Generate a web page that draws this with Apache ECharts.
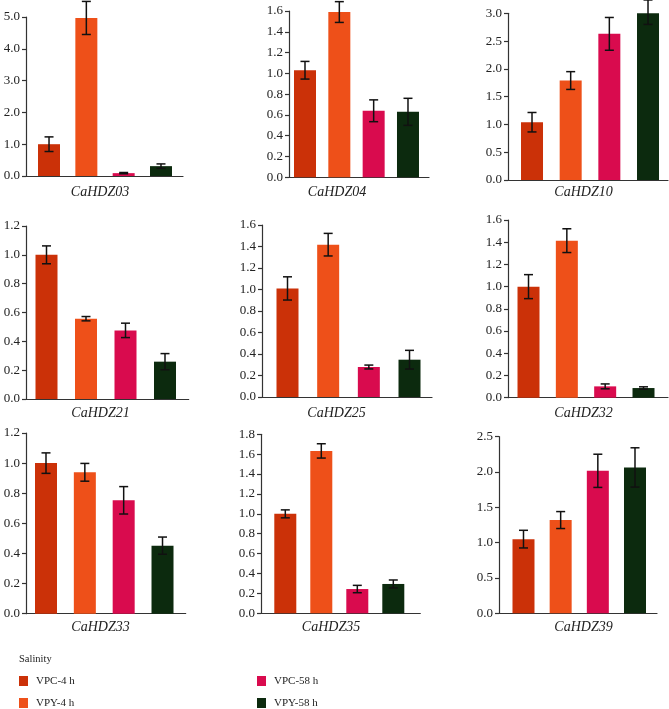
<!DOCTYPE html>
<html>
<head>
<meta charset="utf-8">
<script src="https://cdn.jsdelivr.net/npm/echarts@6/dist/echarts.min.js"></script>
<style>
  html, body { margin: 0; padding: 0; background: #fff; }
  #chart { width: 669px; height: 709px; }
</style>
</head>
<body>
<div id="chart"></div>
<script>
// ---- data ----
const genes = ['CaHDZ03','CaHDZ04','CaHDZ10','CaHDZ21','CaHDZ25','CaHDZ32','CaHDZ33','CaHDZ35','CaHDZ39'];
const treatments = ['VPC-4 h','VPY-4 h','VPC-58 h','VPY-58 h'];
const vpc4     = [1.00, 1.03, 1.04, 1.00, 1.01, 1.00, 1.00, 1.00, 1.05];
const vpc4Err  = [0.23, 0.085, 0.175, 0.062, 0.108, 0.108, 0.068, 0.040, 0.125];
const vpy4     = [4.97, 1.59, 1.79, 0.557, 1.417, 1.414, 0.939, 1.633, 1.32];
const vpy4Err  = [0.52, 0.10, 0.16, 0.015, 0.105, 0.107, 0.059, 0.072, 0.12];
const vpc58    = [0.09, 0.64, 2.63, 0.476, 0.279, 0.102, 0.753, 0.244, 2.017];
const vpc58Err = [0.02, 0.105, 0.295, 0.05, 0.018, 0.022, 0.091, 0.037, 0.235];
const vpy58    = [0.31, 0.63, 3.02, 0.259, 0.347, 0.087, 0.452, 0.295, 2.065];
const vpy58Err = [0.07, 0.13, 0.22, 0.056, 0.087, 0.011, 0.057, 0.040, 0.278];
const yMax      = [5, 1.6, 3.0, 1.2, 1.6, 1.6, 1.2, 1.8, 2.5];
const yInterval = [1, 0.2, 0.5, 0.2, 0.2, 0.2, 0.2, 0.2, 0.5];

const means = [vpc4, vpy4, vpc58, vpy58];
const errs  = [vpc4Err, vpy4Err, vpc58Err, vpy58Err];
const colors = ['#cb3108', '#ee5019', '#d90b4e', '#0c2a0e'];

// ---- layout (pixels) ----
const panels = [
  {left:26,  top:17,    width:157,   height:159,   xMin:-0.617, xMax:3.59,  lx:100,   ly:192},
  {left:289, top:11,    width:140,   height:166.3, xMin:-0.466, xMax:3.612, lx:337,   ly:192},
  {left:508, top:13.3,  width:160,   height:166.7, xMin:-0.621, xMax:3.517, lx:583.5, ly:192},
  {left:26,  top:226,   width:162.7, height:173,   xMin:-0.519, xMax:3.60,  lx:100.5, ly:413.5},
  {left:262, top:225,   width:170,   height:172,   xMin:-0.627, xMax:3.553, lx:336.5, ly:413.5},
  {left:508, top:220,   width:160,   height:177.7, xMin:-0.535, xMax:3.639, lx:583.5, ly:413.5},
  {left:26,  top:433,   width:159.7, height:180.7, xMin:-0.515, xMax:3.597, lx:100.5, ly:627},
  {left:261, top:434.3, width:159.3, height:179,   xMin:-0.675, xMax:3.75,  lx:331,   ly:627},
  {left:499, top:436.7, width:158,   height:176.6, xMin:-0.659, xMax:3.592, lx:583.5, ly:627}
];
const legendPos = [[19, 675.5], [19, 697.5], [257, 675.5], [257, 697.5]];

const serif = '"Liberation Serif", "Times New Roman", serif';
const axisColor = '#333';

const grids = [], xAxes = [], yAxes = [], series = [], graphics = [];

panels.forEach((p, i) => {
  grids.push({left: p.left, top: p.top, width: p.width, height: p.height, containLabel: false});
  xAxes.push({
    type: 'value', gridIndex: i, min: p.xMin, max: p.xMax,
    axisLine: {show: true, onZero: false, lineStyle: {color: axisColor, width: 1.2}},
    axisTick: {show: false}, axisLabel: {show: false}, splitLine: {show: false}
  });
  yAxes.push({
    type: 'value', gridIndex: i, min: 0, max: yMax[i], interval: yInterval[i],
    axisLine: {show: true, onZero: false, lineStyle: {color: axisColor, width: 1.2}},
    axisTick: {show: true, length: 4, lineStyle: {color: axisColor, width: 1.2}},
    axisLabel: {show: true, margin: 6, color: '#222', fontFamily: serif, fontSize: 13,
                formatter: v => v.toFixed(1)},
    splitLine: {show: false}
  });
  treatments.forEach((t, k) => {
    series.push({
      type: 'bar', name: t, xAxisIndex: i, yAxisIndex: i,
      barWidth: 22, barGap: '-100%',
      itemStyle: {color: colors[k]},
      data: [[k, means[k][i]]],
      z: 2
    });
  });
  const ebData = treatments.map((t, k) => [k, means[k][i] - errs[k][i], means[k][i] + errs[k][i]]);
  series.push({
    type: 'custom', xAxisIndex: i, yAxisIndex: i, clip: false, z: 5,
    data: ebData,
    renderItem: function (params, api) {
      const x = api.value(0);
      const lo = api.coord([x, api.value(1)]);
      const hi = api.coord([x, api.value(2)]);
      const hw = 4.5;
      const style = {stroke: '#111', lineWidth: 1.5, fill: null};
      return {
        type: 'group',
        children: [
          {type: 'line', shape: {x1: lo[0], y1: lo[1], x2: hi[0], y2: hi[1]}, style: style},
          {type: 'line', shape: {x1: lo[0] - hw, y1: lo[1], x2: lo[0] + hw, y2: lo[1]}, style: style},
          {type: 'line', shape: {x1: hi[0] - hw, y1: hi[1], x2: hi[0] + hw, y2: hi[1]}, style: style}
        ]
      };
    }
  });
  graphics.push({
    type: 'text', x: p.lx, y: p.ly, z: 10,
    style: {text: genes[i], fill: '#222', font: 'italic 14px ' + serif,
            textAlign: 'center', textVerticalAlign: 'middle'}
  });
});

graphics.push({
  type: 'text', x: 19, y: 659, z: 10,
  style: {text: 'Salinity', fill: '#222', font: '10.5px ' + serif, textAlign: 'left', textVerticalAlign: 'middle'}
});

const legends = treatments.map((t, k) => ({
  left: legendPos[k][0], top: legendPos[k][1], padding: 0,
  orient: 'horizontal', itemWidth: 9, itemHeight: 10, itemGap: 0,
  icon: 'rect', selectedMode: false, data: [t],
  textStyle: {fontFamily: serif, fontSize: 11, color: '#222', padding: [0, 0, 0, 3]}
}));

const option = {
  animation: false,
  backgroundColor: '#fff',
  grid: grids,
  xAxis: xAxes,
  yAxis: yAxes,
  legend: legends,
  graphic: graphics,
  series: series
};

const chart = echarts.init(document.getElementById('chart'), null, {renderer: 'canvas'});
chart.setOption(option);
</script>
</body>
</html>
